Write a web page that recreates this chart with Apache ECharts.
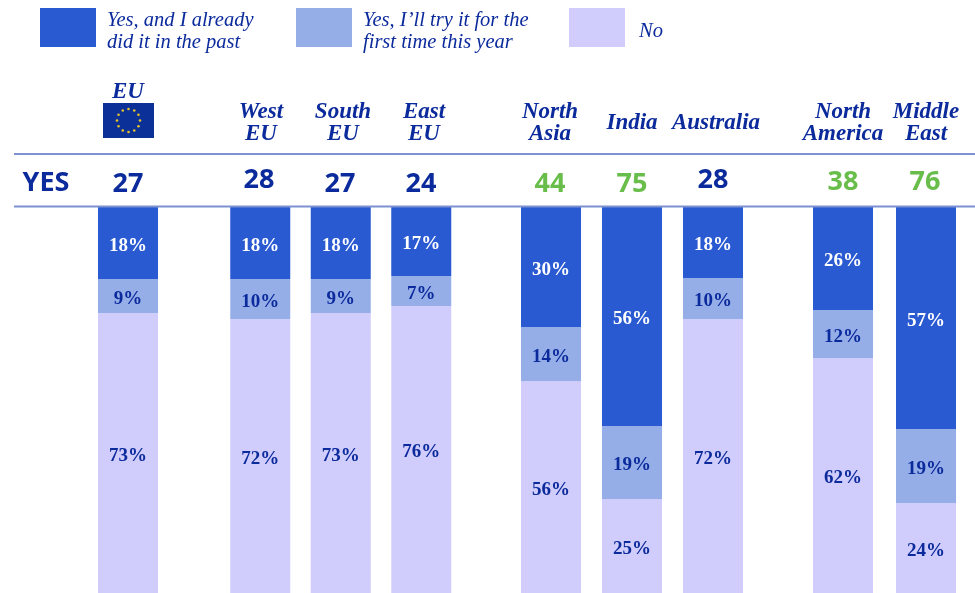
<!DOCTYPE html>
<html>
<head>
<meta charset="utf-8">
<title>Chart</title>
<style>
html, body { margin: 0; padding: 0; background: #fff; }
#main { width: 975px; height: 593px; }
</style>
<script src="https://cdn.jsdelivr.net/npm/echarts@6/dist/echarts.min.js"></script>
</head>
<body>
<div id="main"></div>
<script>
var regions = ['EU', 'West\nEU', 'South\nEU', 'East\nEU', 'North\nAsia', 'India', 'Australia', 'North\nAmerica', 'Middle\nEast'];
var yesTotals = [27, 28, 27, 24, 44, 75, 28, 38, 76];

// printed percentages
var pastLabels = [18, 18, 18, 17, 30, 56, 18, 26, 57];
var firstLabels = [9, 10, 9, 7, 14, 19, 10, 12, 19];
var noLabels = [73, 72, 73, 76, 56, 25, 72, 62, 24];

// segment sizes as drawn in the picture, they differ a little from the printed numbers
var pastValues = [18.65, 18.65, 18.65, 17.88, 31.09, 56.74, 18.39, 26.68, 57.51];
var firstValues = [8.81, 10.36, 8.81, 7.77, 13.99, 18.91, 10.62, 12.44, 19.17];
var noValues = [72.54, 70.98, 72.54, 74.35, 54.92, 24.35, 70.98, 60.88, 23.32];

// layout: one grid per group of regions, [first index, count, left, slot width]
var groups = [[0, 1, 88, 80], [1, 3, 220, 80.5], [4, 3, 510.5, 81], [7, 2, 801.5, 83]];
var headerX = [128, 261, 343, 424, 550, 632, 716, 843, 926];
var totalX = [128, 259, 340, 421, 550, 632, 713, 843, 925];
var totalY = [184, 180, 184, 184, 184, 184, 180, 182, 182];

var navy = '#0b2a9c';
var green = '#69bd4a';
var names = ['Yes, and I already\ndid it in the past', 'Yes, I\u2019ll try it for the\nfirst time this year', 'No'];
var colors = ['#2a5ad2', '#96aee8', '#d0ccfc'];

function makeSeries(name, values, labels, color, labelColor, g, k) {
	var first = g[0];
	return {
		name: name,
		type: 'bar',
		stack: 'share' + k,
		xAxisIndex: k,
		yAxisIndex: k,
		barWidth: 60,
		itemStyle: { color: color },
		label: {
			show: true,
			position: 'inside',
			offset: [0, 3],
			color: labelColor,
			fontFamily: 'Liberation Serif',
			fontWeight: 'bold',
			fontSize: 19,
			formatter: function(p) {
				return labels[first + p.dataIndex] + '%';
			}
		},
		data: values.slice(first, first + g[1])
	};
}

function makeLegend(name, left, top, textPad) {
	return {
		data: [{ name: name, icon: 'rect' }],
		left: left,
		top: top,
		padding: 0,
		itemWidth: 56,
		itemHeight: 39,
		itemGap: 0,
		selectedMode: false,
		// blank first line pushes the text a bit below the middle of the swatch
		formatter: function(n) {
			return '{s| }\n' + n.split('\n').map(function(line) {
				return '{t|' + line + '}';
			}).join('\n');
		},
		textStyle: {
			padding: [0, 0, 0, textPad],
			rich: {
				s: { fontSize: 8, lineHeight: 8 },
				t: {
					color: navy,
					fontFamily: 'Liberation Serif',
					fontStyle: 'italic',
					fontSize: 20.5,
					lineHeight: 22
				}
			}
		}
	};
}

var graphics = [];

function addText(text, x, y, size, color, family, style, weight) {
	graphics.push({
		type: 'text',
		x: x,
		y: y,
		style: {
			text: text,
			fill: color,
			textAlign: 'center',
			textVerticalAlign: 'middle',
			font: style + ' ' + weight + ' ' + size + 'px "' + family + '"'
		}
	});
}

// rules above and below the YES row
[154, 206.5].forEach(function(y) {
	graphics.push({
		type: 'rect',
		shape: { x: 14, y: y - 1, width: 961, height: 2 },
		style: { fill: '#7c90d2' },
		z: 10
	});
});

regions.forEach(function(r, i) {
	var parts = r.split('\n');
	var y = parts.length > 1 ? 112 : 123;
	if (i === 0) {
		y = 92;
	}
	parts.forEach(function(p, j) {
		addText(p, headerX[i], y + j * 22, 23, navy, 'Liberation Serif', 'italic', 'bold');
	});
	addText(String(yesTotals[i]), totalX[i], totalY[i], 27, yesTotals[i] > 30 ? green : navy, 'Open Sans', 'normal', 'bold');
});
addText('YES', 46, 183, 27, navy, 'Open Sans', 'normal', 'bold');

// EU flag
graphics.push({
	type: 'rect',
	shape: { x: 103, y: 103, width: 51, height: 35 },
	style: { fill: '#0b3199' }
});
for (var s = 0; s < 12; s++) {
	var a = s * Math.PI / 6;
	graphics.push({
		type: 'circle',
		shape: { cx: 128.5 + 11.5 * Math.sin(a), cy: 120.5 - 11.5 * Math.cos(a), r: 1.3 },
		style: { fill: '#e6c326' }
	});
}

var grids = [], xAxes = [], yAxes = [], series = [];
groups.forEach(function(g, k) {
	grids.push({ left: g[2], width: g[1] * g[3], top: 207, bottom: 0 });
	xAxes.push({ type: 'category', gridIndex: k, show: false, data: regions.slice(g[0], g[0] + g[1]) });
	yAxes.push({ type: 'value', gridIndex: k, show: false, min: 0, max: 100, inverse: true });
	series.push(makeSeries(names[0], pastValues, pastLabels, colors[0], '#fff', g, k));
	series.push(makeSeries(names[1], firstValues, firstLabels, colors[1], navy, g, k));
	series.push(makeSeries(names[2], noValues, noLabels, colors[2], navy, g, k));
});

var chart = echarts.init(document.getElementById('main'));
chart.setOption({
	animation: false,
	backgroundColor: '#fff',
	legend: [makeLegend(names[0], 40, 1.5, 6), makeLegend(names[1], 296, 1.5, 6), makeLegend(names[2], 569, 8, 9)],
	grid: grids,
	xAxis: xAxes,
	yAxis: yAxes,
	series: series,
	graphic: graphics
});
</script>
</body>
</html>
